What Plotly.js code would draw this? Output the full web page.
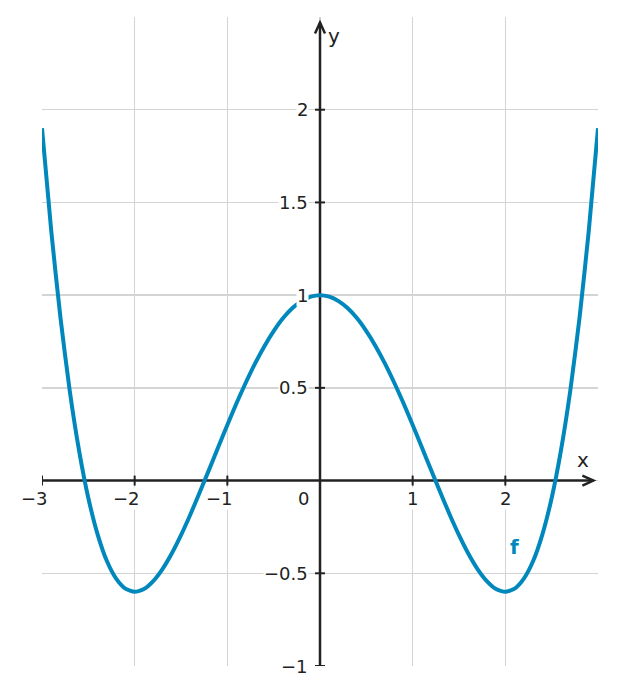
<!DOCTYPE html>
<html>
<head>
<meta charset="utf-8">
<script src="https://cdn.plot.ly/plotly-3.0.1.min.js"></script>
<style>html,body{margin:0;padding:0;background:#fff;}#chart{width:617px;height:696px;}</style>
</head>
<body>
<div id="chart"></div>
<script>
const xValues = [-3,-2.9,-2.8,-2.7,-2.6,-2.5,-2.4,-2.3,-2.2,-2.1,-2,-1.9,-1.8,-1.7,-1.6,-1.5,-1.4,-1.3,-1.2,-1.1,-1,-0.9,-0.8,-0.7,-0.6,-0.5,-0.4,-0.3,-0.2,-0.1,0,0.1,0.2,0.3,0.4,0.5,0.6,0.7,0.8,0.9,1,1.1,1.2,1.3,1.4,1.5,1.6,1.7,1.8,1.9,2,2.1,2.2,2.3,2.4,2.5,2.6,2.7,2.8,2.9,3];
const yValues = [1.9,1.345,0.875,0.482,0.162,-0.094,-0.29,-0.434,-0.529,-0.583,-0.6,-0.585,-0.542,-0.477,-0.393,-0.294,-0.184,-0.066,0.055,0.178,0.3,0.418,0.529,0.632,0.725,0.806,0.875,0.929,0.968,0.992,1,0.992,0.968,0.929,0.875,0.806,0.725,0.632,0.529,0.418,0.3,0.178,0.055,-0.066,-0.184,-0.294,-0.393,-0.477,-0.542,-0.585,-0.6,-0.583,-0.529,-0.434,-0.29,-0.094,0.162,0.482,0.875,1.345,1.9];
const xTicks = [-3,-2,-1,1,2];
const xTickLabels = ['−3','−2','−1','1','2'];
const yTicks = [-1,-0.5,0.5,1,1.5,2];
const yTickLabels = ['−1','−0.5','0.5','1','1.5','2'];
const seriesName = 'f';

const blue = '#0088bd';
const ink = '#222222';
const grid = '#d4d4d4';
const font = 'DejaVu Sans, sans-serif';
const xTip = 2.95, yTip = 2.47;

const shapes = [];
// axis lines
shapes.push({type:'line', layer:'between', xref:'x', yref:'y', x0:-3, x1:xTip, y0:0, y1:0, line:{color:ink, width:2.5}});
shapes.push({type:'line', layer:'between', xref:'x', yref:'y', x0:0, x1:0, y0:-1, y1:yTip, line:{color:ink, width:2.5}});
// tick marks
xTicks.forEach(t => shapes.push({type:'line', layer:'between', xref:'x', yref:'y', x0:t, x1:t, ysizemode:'pixel', yanchor:0, y0:-5, y1:5, line:{color:ink, width:2}}));
yTicks.forEach(t => shapes.push({type:'line', layer:'between', xref:'x', yref:'y', y0:t, y1:t, xsizemode:'pixel', xanchor:0, x0:-5, x1:5, line:{color:ink, width:2}}));
// arrowheads
shapes.push({type:'path', layer:'between', xref:'x', yref:'y', xsizemode:'pixel', ysizemode:'pixel', xanchor:xTip, yanchor:0, path:'M-11,-5 L0,0 L-11,5', line:{color:ink, width:2.5}});
shapes.push({type:'path', layer:'between', xref:'x', yref:'y', xsizemode:'pixel', ysizemode:'pixel', xanchor:0, yanchor:yTip, path:'M-5,-11 L0,0 L5,-11', line:{color:ink, width:2.5}});

const annotations = [];
xTicks.forEach((t,i) => annotations.push({x:t, y:0, xref:'x', yref:'y', text:xTickLabels[i], showarrow:false, xanchor:'center', yanchor:'middle', xshift: t<0 ? -8 : 0, yshift:-18, bgcolor:'#fff', borderpad:0, font:{family:font, size:18, color:ink}}));
yTicks.forEach((t,i) => annotations.push({x:0, y:t, xref:'x', yref:'y', text:yTickLabels[i], showarrow:false, xanchor:'right', yanchor:'middle', xshift:-11, bgcolor:'#fff', borderpad:0, font:{family:font, size:18, color:ink}}));
annotations.push({x:0, y:0, xref:'x', yref:'y', text:'0', showarrow:false, xanchor:'center', yanchor:'middle', xshift:-17, yshift:-18, font:{family:font, size:18, color:ink}});
annotations.push({x:2.84, y:0.11, xref:'x', yref:'y', text:'x', showarrow:false, font:{family:font, size:20, color:ink}});
annotations.push({x:0.15, y:2.40, xref:'x', yref:'y', text:'y', showarrow:false, font:{family:font, size:20, color:ink}});
annotations.push({x:2.10, y:-0.36, xref:'x', yref:'y', text:'<b>'+seriesName+'</b>', showarrow:false, font:{family:font, size:20, color:blue}});

const trace = {x:xValues, y:yValues, type:'scatter', mode:'lines', name:seriesName, line:{color:blue, width:4, shape:'spline', smoothing:0.6}, hoverinfo:'skip'};

const layout = {
  width:617, height:696,
  margin:{l:42, r:19, t:17, b:30, pad:0},
  paper_bgcolor:'#fff', plot_bgcolor:'#fff',
  showlegend:false,
  xaxis:{range:[-3,3], tickvals:[-3,-2,-1,0,1,2], showticklabels:false, ticks:'', showgrid:true, gridcolor:grid, gridwidth:1.5, zeroline:false, showline:false, fixedrange:true},
  yaxis:{range:[-1,2.5], tickvals:[-1,-0.5,0,0.5,1,1.5,2], showticklabels:false, ticks:'', showgrid:true, gridcolor:grid, gridwidth:1.5, zeroline:false, showline:false, fixedrange:true},
  shapes:shapes,
  annotations:annotations,
  font:{family:font, size:18, color:ink}
};

Plotly.newPlot('chart', [trace], layout, {displayModeBar:false, staticPlot:true});
</script>
</body>
</html>
